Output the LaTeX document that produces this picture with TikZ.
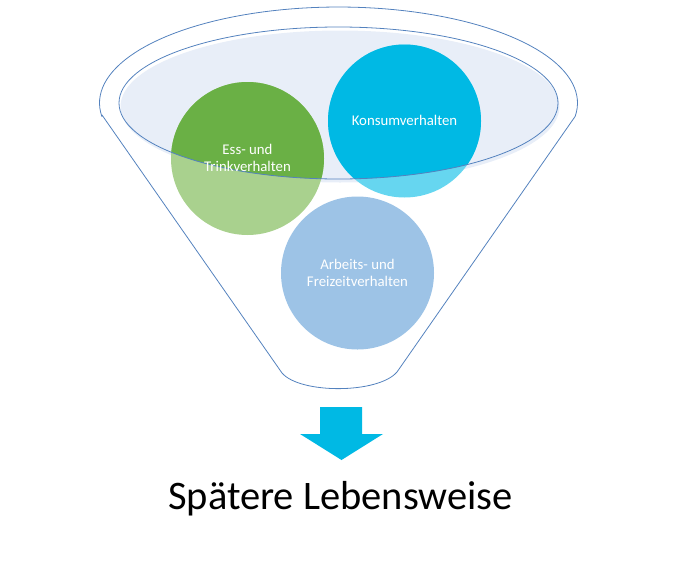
\documentclass[tikz,border=0pt]{standalone}
\usepackage{fontspec}
\setmainfont{Carlito}
\definecolor{funnelline}{RGB}{84,130,190}
\definecolor{ellfill}{RGB}{232,238,248}
\definecolor{greendark}{RGB}{106,176,69}
\definecolor{greenlight}{RGB}{169,209,142}
\definecolor{cyandark}{RGB}{0,185,228}
\definecolor{cyanlight}{RGB}{102,214,240}
\definecolor{bluelight}{RGB}{157,195,230}
\begin{document}
\begin{tikzpicture}[x=1pt,y=-1pt,
  outline/.style={draw=funnelline,line width=0.8pt},
  lbl/.style={text=white,font=\fontsize{14.8}{16.6}\selectfont,align=center,inner sep=0pt},
  title/.style={text=black,font=\fontsize{40.5}{46}\selectfont,inner sep=0pt}]
\useasboundingbox (0,0) rectangle (682,565);
% funnel outline
\draw[outline,line join=round] (282,373) -- (102,115)
  -- plot[domain=172:368,samples=80] ({338.5+239*cos(\x)},{103+96*sin(\x)})
  -- (397,372) .. controls (378,394) and (300,394) .. (282,373) -- cycle;
% inner ellipse fill
\fill[ellfill] (340,106.5) ellipse[x radius=219.5pt,y radius=76pt];
% circles, light parts
\fill[greenlight] (247.5,158.5) circle[radius=76.5pt];
\fill[cyanlight] (404.5,121) circle[radius=76.5pt];
\fill[bluelight] (357.5,273) circle[radius=76.5pt];
% dark parts inside the ellipse
\begin{scope}
  \clip (338.5,103) ellipse[x radius=219.5pt,y radius=76pt];
  \fill[greendark] (247.5,158.5) circle[radius=76.5pt];
  \fill[cyandark] (404.5,121) circle[radius=76.5pt];
\end{scope}
% ellipse outline
\draw[outline] (338.5,103) ellipse[x radius=219.5pt,y radius=76pt];
% labels
\node[lbl] (ess) at (247.5,158) {Ess- und\\Trinkverhalten};
\node[lbl,anchor=base] (kon) at (404.5,125) {Konsumverhalten};
\node[lbl] (arb) at (357.5,273) {Arbeits- und\\Freizeitverhalten};
% arrow
\fill[cyandark] (320,407) -- (362,407) -- (362,434) -- (383,434) -- (341.5,460)
  -- (300,434) -- (320,434) -- cycle;
\node[title,anchor=base] (res) at (340.5,509) {Spätere Lebensweise};
\end{tikzpicture}
\end{document}
